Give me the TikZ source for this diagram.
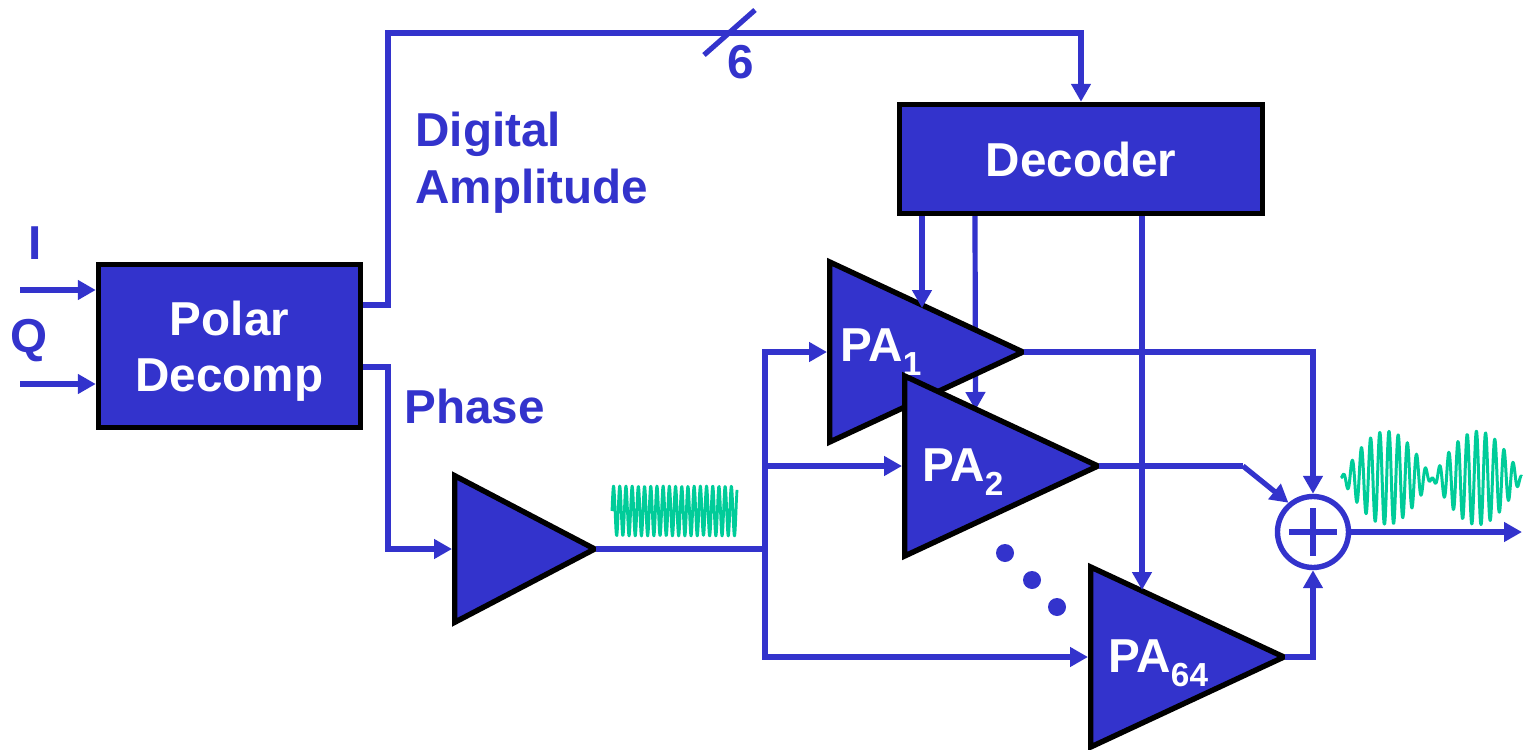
\documentclass[tikz,border=0pt]{standalone}
\usepackage{fontspec}
\setmainfont{Liberation Sans}
\usetikzlibrary{arrows.meta,shapes.geometric}
\definecolor{cSignal}{RGB}{51,51,204}
\definecolor{cWave}{RGB}{0,204,153}
\newcommand{\pasub}[1]{\raisebox{-3.5pt}[0pt][0pt]{\textsubscript{#1}}}
\newcommand{\lowtext}[2]{\raisebox{-#1}[0.75em][0.2em]{#2}}
\tikzset{
  sigline/.style={draw=cSignal, line width=2.6pt, line join=miter},
  sigarrow/.style={sigline, -{Triangle[length=9pt,width=9.5pt]}},
  fromapex/.style={shorten <=-3pt},
  block/.style={draw=black, fill=cSignal, line width=2.7pt, text=white, align=center},
  amp/.style={isosceles triangle, isosceles triangle stretches, draw=black, fill=cSignal,
    line width=2.7pt, inner sep=0pt, anchor=lower side},
  pasize/.style={minimum width=90pt, minimum height=96.6pt},
  palabel/.style={text=white, right, inner sep=0pt},
  sigtext/.style={text=cSignal, right, inner sep=0pt},
  wave/.style={draw=cWave, line width=1.5pt, line join=round, smooth}
}
\begin{document}
\begin{tikzpicture}[font=\fontsize{23.8}{26}\selectfont\bfseries, x=0.5pt, y=-0.5pt]
\useasboundingbox (0,0) rectangle (1523,750);
\node[block, minimum width=131pt, minimum height=81.5pt] (polar) at (229.5,346) {\lowtext{2pt}{Polar}\\[2pt]\lowtext{2pt}{Decomp}};
\node[block, minimum width=181.5pt, minimum height=54.5pt] (decoder) at (1081,159) {\lowtext{2pt}{Decoder}};
\coordinate (iIn) at (20,290);
\coordinate (qIn) at (20,384);
\coordinate (ampUp) at (388,305);
\coordinate (phaseDn) at (388,367);
\coordinate (topRun) at (1081,33);
\coordinate (split) at (765,549);
\coordinate (tipOne) at (922,308);
\coordinate (tipTwo) at (975.5,410);
\coordinate (tipSix) at (1142,590);
\coordinate (bend) at (1243,466);
\coordinate (slashA) at (704,55);
\coordinate (slashB) at (755,10);
% decoder line runs behind PA1
\draw[sigarrow] ([xshift=-53pt]decoder.south) -- (tipTwo);
\node[amp, minimum width=73.3pt, minimum height=70pt] (drv) at (452,549) {};
\node[amp, pasize] (paone) at (827,352) {};
\node[palabel] (paonelabel) at (840,345) {PA\pasub{1}};
\node[amp, pasize] (patwo) at (902,466) {};
\node[palabel] (patwolabel) at (922,465) {PA\pasub{2}};
\node[amp, pasize] (pasix) at (1088,657) {};
\node[palabel] (pasixlabel) at (1108,656) {PA\pasub{64}};
\node[circle, draw=cSignal, line width=2.7pt, fill=white, minimum size=35.5pt, inner sep=0pt] (sum) at (1313,532) {};
\draw[sigline] ([yshift=12pt]sum.center) -- ([yshift=-12pt]sum.center);
\draw[sigline] ([xshift=-12pt]sum.center) -- ([xshift=12pt]sum.center);
% inputs and digital path
\draw[sigarrow] (iIn) -- (iIn -| polar.west);
\draw[sigarrow] (qIn) -- (qIn -| polar.west);
\draw[sigarrow] (ampUp -| polar.east) -- (ampUp) |- (topRun) -- (decoder.north);
\draw[sigline] (slashA) -- (slashB);
\draw[sigarrow] (phaseDn -| polar.east) -- (phaseDn) |- (drv.lower side);
\draw[sigarrow] ([xshift=-79.5pt]decoder.south) -- (tipOne);
\draw[sigarrow] ([xshift=30.5pt]decoder.south) -- (tipSix);
% phase path
\draw[sigline, fromapex] (drv.apex) -- (split);
\draw[sigarrow] (split) |- (paone.lower side);
\draw[sigarrow] (split) |- (patwo.lower side);
\draw[sigarrow] (split) |- (pasix.lower side);
% combiner
\draw[sigarrow, fromapex] (paone.apex) -| (sum.north);
\draw[sigline, fromapex] (patwo.apex) -- (bend);
\draw[sigarrow] (bend) -- (sum.130);
\draw[sigarrow, fromapex] (pasix.apex) -| (sum.south);
\coordinate (outEnd) at (1522,532);
\draw[sigarrow] (sum.east) -- (outEnd);
% waveforms
\draw[wave, line width=1.4pt] plot[domain=612:737, samples=260] (\x, {511-25*sin((\x-612)*58.06)});
\draw[wave] plot[domain=1341:1522, samples=320] (\x, {478-47*sin((\x-1341)*1.978)*cos((\x-1389)*39.13)});
\foreach \x/\y/\n in {1005/553/a, 1032/580/b, 1057/607/c} {
  \node[circle, fill=cSignal, minimum size=9pt, inner sep=0pt] (dot\n) at (\x,\y) {};
}
\node[sigtext] (lblDigital) at (415,134) {Digital};
\node[sigtext] (lblAmp) at (415,191) {Amplitude};
\node[sigtext] (lblPhase) at (404,406) {Phase};
\node[sigtext, anchor=center] (lblI) at (35,243) {I};
\node[sigtext, anchor=center] (lblQ) at (29,341) {Q};
\node[sigtext, anchor=center] (lblSix) at (741,62) {6};
\end{tikzpicture}
\end{document}
